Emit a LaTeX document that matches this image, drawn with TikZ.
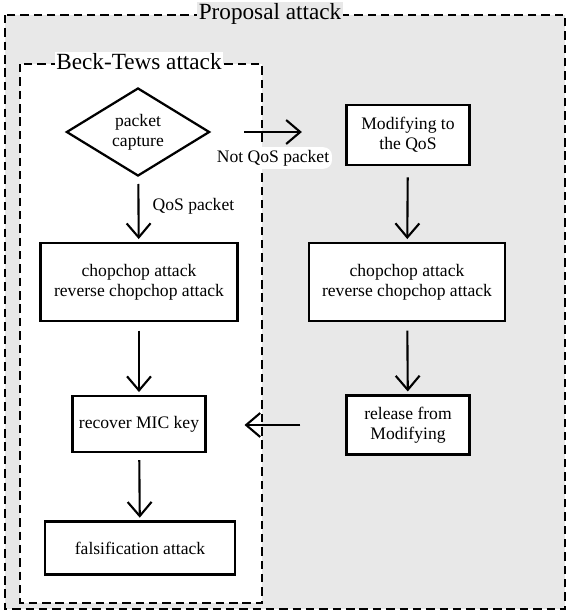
\documentclass[tikz,border=0pt]{standalone}
\usepackage{fontspec}
\setmainfont{Liberation Serif}
\usetikzlibrary{arrows.meta}
\usetikzlibrary{shapes.geometric}
\tikzset{stage/.style = {draw, line width=1.6pt, align=center, inner sep=2pt, fill=white}}
\tikzset{flow/.style = {line width=1.5pt, -{Straight Barb[length=10pt, width=17pt, line width=1.5pt]}}}
\tikzset{frame/.style = {line width=2pt, dash pattern=on 6pt off 3.5pt}}
\definecolor{mgray}{rgb}{0.91, 0.91, 0.91}

\begin{document}
\begin{tikzpicture}[x=0.025cm, y=-0.025cm, font=\fontsize{12.5}{14.5}\selectfont]
      \useasboundingbox (0, 0) rectangle (567, 612);
      \fill [white] (0, 0) rectangle (567, 612);

      % outer and inner frames
      \draw [frame, fill=mgray] (5, 15) rectangle (565, 609);
      \draw [frame, fill=white] (20, 64) rectangle (262, 603);
      \node [fill=mgray, inner sep=1pt, font=\fontsize{16.5}{18}\selectfont] (propLbl) at (270, 14) {Proposal attack};
      \node [fill=white, inner sep=1pt, font=\fontsize{16.5}{18}\selectfont] (beckLbl) at (139, 62) {Beck-Tews attack};

      % left column
      \node [stage, diamond, inner sep=0pt, minimum width=3.58cm, minimum height=1.98cm] (capture) at (138, 132) {packet\\capture};
      \node [stage, minimum width=4.92cm, minimum height=1.95cm] (chopL) at (139, 282) {chopchop attack\\reverse chopchop attack};
      \node [stage, minimum width=3.32cm, minimum height=1.4cm] (mic) at (139, 424) {recover MIC key};
      \node [stage, minimum width=4.75cm, minimum height=1.32cm] (falsify) at (140, 548) {falsification attack};

      % right column
      \node [stage, minimum width=3.07cm, minimum height=1.5cm] (modify) at (408, 135) {Modifying to\\the QoS};
      \node [stage, minimum width=4.9cm, minimum height=1.95cm] (chopR) at (407, 282) {chopchop attack\\reverse chopchop attack};
      \node [stage, minimum width=3.07cm, minimum height=1.48cm] (release) at (408, 425) {release from\\Modifying};

      \draw [flow, shorten <=5pt, shorten >=2pt] (capture) -- (chopL) node [pos=0.45, right=6pt] (qosLbl) {QoS packet};
      \draw [flow, shorten <=6pt, shorten >=2pt] (chopL) -- (mic);
      \draw [flow, shorten <=5pt, shorten >=2pt] (mic) -- (falsify);
      \draw [flow, shorten <=24pt, shorten >=31pt] (capture.east) -- (capture.east -| modify.west);
      \node [fill=white, rounded corners=6pt, inner sep=2pt] (notLbl) at (273, 158) {Not QoS packet};
      \draw [flow, shorten <=8pt, shorten >=2pt] (modify) -- (chopR);
      \draw [flow, shorten <=6pt, shorten >=2pt] (chopR) -- (release);
      \draw [flow, shorten <=32pt, shorten >=27pt] (release.west) -- (release.west -| mic.east);
    \end{tikzpicture}
\end{document}
